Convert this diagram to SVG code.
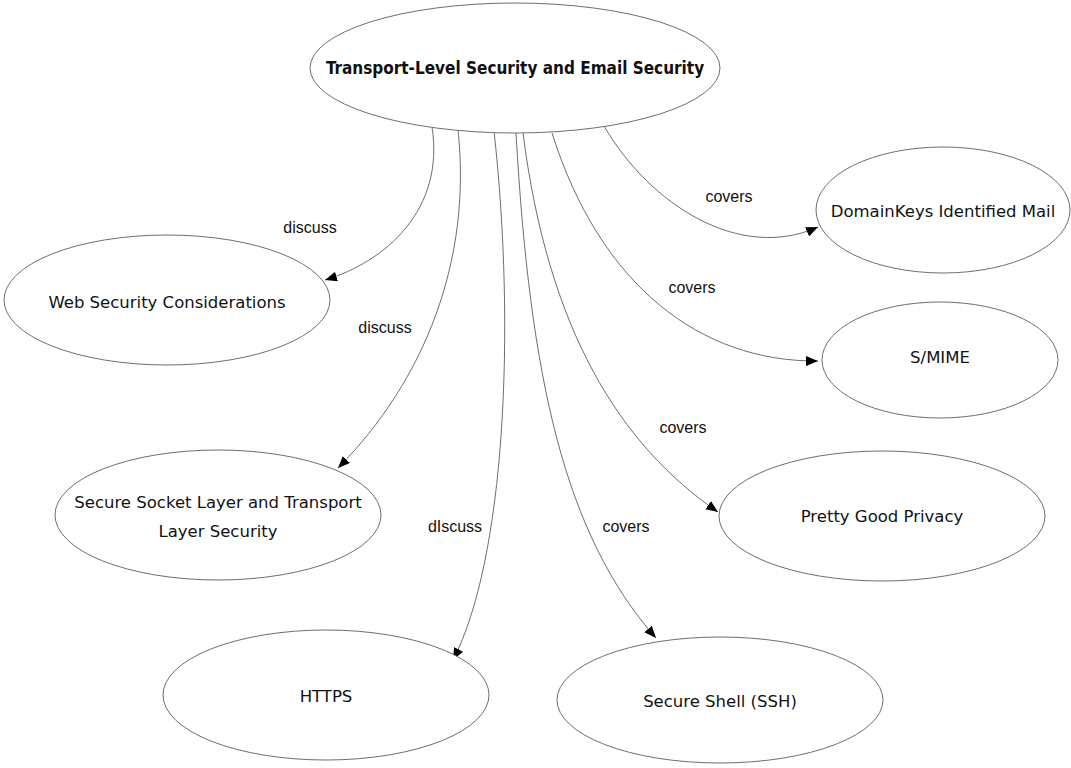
<svg xmlns="http://www.w3.org/2000/svg" width="1071" height="768" viewBox="0 0 1071 768">
  <defs>
    <marker id="arrow" viewBox="0 0 12 10" refX="12" refY="5" markerWidth="12" markerHeight="10" markerUnits="userSpaceOnUse" orient="auto">
      <path d="M0,0 L12,5 L0,10 Z" fill="#000"/>
    </marker>
    <style>
      .node ellipse { fill: #fff; stroke: #6e6e6e; stroke-width: 1; }
      .node text { font-family: "DejaVu Sans", "Liberation Sans", sans-serif; font-size: 16.5px; fill: #111; text-anchor: middle; }
      .node text.title { font-family: "DejaVu Sans Condensed", "DejaVu Sans", sans-serif; font-weight: bold; font-size: 17px; }
      .edge path { fill: none; stroke: #6e6e6e; stroke-width: 1; marker-end: url(#arrow); }
      .edge text { font-family: "Liberation Sans", Arial, sans-serif; font-size: 16px; fill: #111; text-anchor: middle; }
    </style>
  </defs>
  <rect width="1071" height="768" fill="#fff"/>

  <!-- connectors -->
  <g id="edges">
    <g class="edge" id="e-web"><path d="M432,127 C445,210 385,262 325,280"/><text x="310" y="233">discuss</text></g>
    <g class="edge" id="e-ssl"><path d="M458,130 C472,260 425,380 338,468"/><text x="385" y="333">discuss</text></g>
    <g class="edge" id="e-https"><path d="M494,131 C516,330 505,560 453,660"/><text x="455" y="532">dIscuss</text></g>
    <g class="edge" id="e-ssh"><path d="M516,133 C530,380 565,535 656,638"/><text x="626" y="532">covers</text></g>
    <g class="edge" id="e-pgp"><path d="M523,133 C548,330 620,445 718,512"/><text x="683" y="433">covers</text></g>
    <g class="edge" id="e-smime"><path d="M552,133 C600,285 700,362 818,361"/><text x="692" y="293">covers</text></g>
    <g class="edge" id="e-dkim"><path d="M604,126 C650,205 740,262 818,227"/><text x="729" y="202">covers</text></g>
  </g>

  <!-- nodes -->
  <g class="node" id="n-root">
    <ellipse cx="515" cy="68" rx="205" ry="65"/>
    <text class="title" x="515" y="74">Transport-Level Security and Email Security</text>
  </g>
  <g class="node" id="n-web">
    <ellipse cx="167" cy="300" rx="163" ry="65"/>
    <text x="167" y="308">Web Security Considerations</text>
  </g>
  <g class="node" id="n-ssl">
    <ellipse cx="218" cy="515" rx="163" ry="65"/>
    <text x="218" y="508">Secure Socket Layer and Transport</text>
    <text x="218" y="537">Layer Security</text>
  </g>
  <g class="node" id="n-https">
    <ellipse cx="326" cy="695" rx="163" ry="65"/>
    <text x="326" y="702">HTTPS</text>
  </g>
  <g class="node" id="n-ssh">
    <ellipse cx="720" cy="700" rx="163" ry="63"/>
    <text x="720" y="707">Secure Shell (SSH)</text>
  </g>
  <g class="node" id="n-pgp">
    <ellipse cx="882" cy="516" rx="163" ry="65"/>
    <text x="882" y="522">Pretty Good Privacy</text>
  </g>
  <g class="node" id="n-smime">
    <ellipse cx="940" cy="360" rx="118" ry="58"/>
    <text x="940" y="363">S/MIME</text>
  </g>
  <g class="node" id="n-dkim">
    <ellipse cx="943" cy="210" rx="127" ry="63"/>
    <text x="943" y="217">DomainKeys Identified Mail</text>
  </g>
</svg>
